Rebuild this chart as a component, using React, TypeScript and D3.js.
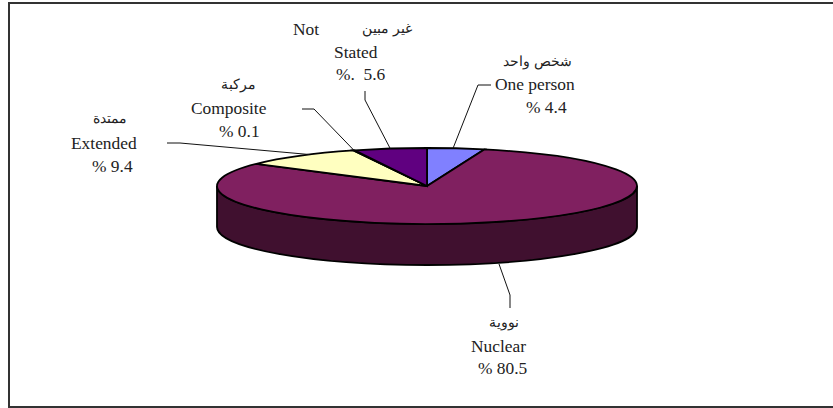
import { useEffect, useRef } from "react";
import * as d3 from "d3";

// clockwise from 12 o'clock
const categories = ["One person", "Nuclear", "Extended", "Composite", "Not Stated"];
const values = [4.4, 80.5, 9.4, 0.1, 5.6];
const colors = ["#8080ff", "#802060", "#ffffc0", "#a0e0e0", "#600080"];

const width = 833;
const height = 408;
const cx = 427;
const cy = 186;
const rx = 210;
const ry = 38;
const depth = 41;

export default function App() {
  const chartRef = useRef<SVGSVGElement>(null);

  useEffect(() => {
    const svg = d3.select(chartRef.current);
    svg.selectAll("*").remove();

    // frame runs off the right edge of the picture
    svg
      .append("path")
      .attr("d", `M${width},3 H9 V407 H${width}`)
      .attr("fill", "none")
      .attr("stroke", "#333")
      .attr("stroke-width", 2);

    // side wall
    svg
      .append("path")
      .attr(
        "d",
        `M${cx - rx},${cy} A${rx},${ry} 0 0 0 ${cx + rx},${cy} v${depth} A${rx},${ry} 0 0 1 ${cx - rx},${cy + depth} Z`
      )
      .attr("fill", "#40102f")
      .attr("stroke", "black")
      .attr("stroke-width", 1.8);

    const pie = d3
      .pie<number>()
      .sort(null)
      .value((d) => d);
    const arc = d3.arc<d3.PieArcDatum<number>>().innerRadius(0).outerRadius(rx);
    const slices = pie(values);

    svg
      .append("g")
      .attr("transform", `translate(${cx},${cy}) scale(1,${ry / rx})`)
      .selectAll("path")
      .data(slices)
      .enter()
      .append("path")
      .attr("d", arc)
      .attr("fill", (_, i) => colors[i])
      .attr("stroke", "black")
      .attr("stroke-width", 1.8)
      .attr("vector-effect", "non-scaling-stroke");

    // edge point of a slice, at a given share of its sweep
    const edge = (i: number, t: number): [number, number] => {
      const a = slices[i].startAngle + (slices[i].endAngle - slices[i].startAngle) * t;
      return [cx + rx * Math.sin(a), cy - ry * Math.cos(a)];
    };

    const leaders: [number, number][][] = [
      [edge(0, 0.45), [478, 85], [491, 85]],
      [[499, 264], [510, 295], [510, 308]],
      [edge(2, 0.6), [180, 143], [167, 143]],
      [edge(3, 0.5), [314, 109], [302, 109]],
      [edge(4, 0.5), [365, 100], [365, 91]],
    ];
    svg
      .append("g")
      .selectAll("path")
      .data(leaders)
      .enter()
      .append("path")
      .attr("d", (d) => d3.line()(d))
      .attr("fill", "none")
      .attr("stroke", "#111")
      .attr("stroke-width", 1);

    const latin: [string, number, number][] = [
      ["One person", 495, 90],
      ["% 4.4", 526, 113],
      ["Not", 293, 35],
      ["Stated", 334, 58],
      ["%.  5.6", 336, 80],
      ["Composite", 191, 114],
      ["% 0.1", 219, 137],
      ["Extended", 71, 149],
      ["% 9.4", 92, 172],
      ["Nuclear", 471, 352],
      ["% 80.5", 478, 374],
    ];
    const arabic: [string, number, number][] = [
      ["شخص واحد", 572, 66],
      ["غير مبين", 412, 33],
      ["مركبة", 256, 89],
      ["ممتدة", 127, 123],
      ["نووية", 519, 327],
    ];

    svg
      .append("g")
      .selectAll("text")
      .data(latin)
      .enter()
      .append("text")
      .attr("x", (d) => d[1])
      .attr("y", (d) => d[2])
      .attr("xml:space", "preserve")
      .style("font-family", "'Liberation Serif', serif")
      .style("font-size", "17.4px")
      .style("fill", "#222")
      .text((d) => d[0]);

    svg
      .append("g")
      .selectAll("text")
      .data(arabic)
      .enter()
      .append("text")
      .attr("x", (d) => d[1])
      .attr("y", (d) => d[2])
      .attr("text-anchor", "end")
      .style("font-family", "'Liberation Serif', serif")
      .style("font-size", "14.4px")
      .style("fill", "#222")
      .text((d) => d[0]);
  }, []);

  return (
    <svg
      ref={chartRef}
      width={width}
      height={height}
      role="img"
      aria-label={categories.join(", ")}
      style={{ position: "absolute", left: 0, top: 0 }}
    />
  );
}
